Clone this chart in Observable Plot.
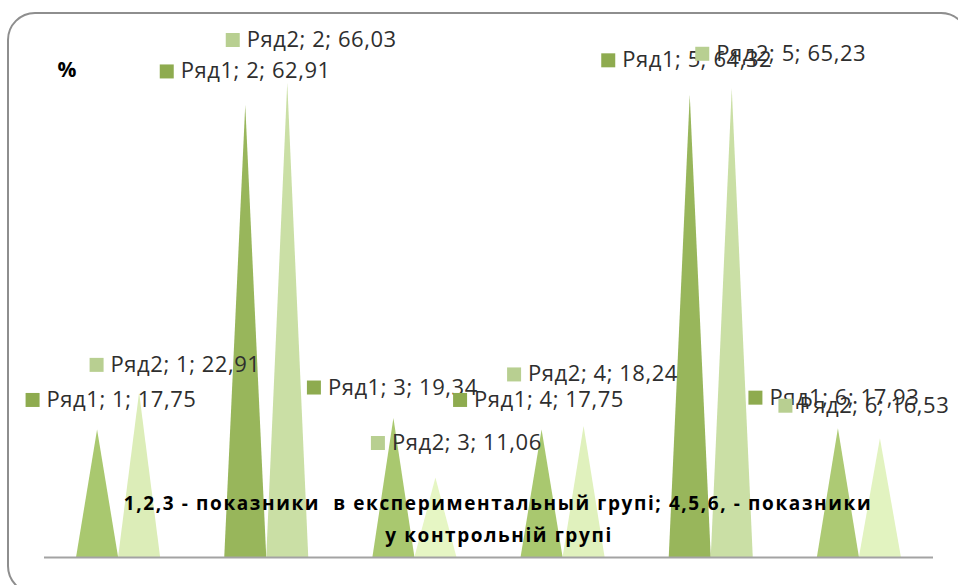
<!DOCTYPE html>
<html>
<head>
<meta charset="utf-8">
<script src="https://cdn.jsdelivr.net/npm/d3@7"></script>
<script src="https://cdn.jsdelivr.net/npm/@observablehq/plot@0.6"></script>
<style>
  html, body { margin: 0; padding: 0; background: #fff; }
  #wrap { position: relative; width: 958px; height: 585px; overflow: hidden; }
  #frame { position: absolute; left: 7px; top: 12px; width: 962px; height: 582px;
           border: 2.5px solid #8e8e8e; border-radius: 28px; box-sizing: border-box; }
  #chart { position: absolute; left: 0; top: 0; }
  #chart g[font-size="22"] { letter-spacing: 0.55px; }
  #chart g[font-size="19"] { letter-spacing: 1.6px; }
</style>
</head>
<body>
<div id="wrap"><div id="frame"></div><div id="chart"></div></div>
<script>
// ---- data ----
const categories = [1, 2, 3, 4, 5, 6];
const seriesNames = ["Ряд1", "Ряд2"];
const ryad1 = [17.75, 62.91, 19.34, 17.75, 64.32, 17.93];
const ryad2 = [22.91, 66.03, 11.06, 18.24, 65.23, 16.53];
const yMax = 70;
const percentLabel = "%";
const titleLines = [
  "1,2,3 - показники  в експериментальный групі; 4,5,6, - показники",
  "у контрольній групі"
];

// ---- styles / layout ----
const fill1 = ["#a9c86f", "#98b65b", "#a9c86f", "#a9c86f", "#98b65b", "#adca74"];
const fill2 = ["#dcedb8", "#cadfa5", "#e6f6c4", "#e0f1bd", "#cadfa5", "#e2f3c0"];
const markerColors = ["#8eab4f", "#b8cf91"];
// label offsets (px) of the marker's left edge / vertical centre from the pyramid apex
const labelDx1 = [-72, -86, -87, -89, -89, -90];
const labelDy1 = [-30, -34, -31, -30, -35, -31];
const labelDx2 = [-50, -62, -65, -77, -37, -102];
const labelDy2 = [-28, -43, -35, -52, -35, -33];

const halfW = 0.2835; // width of one pyramid in category units
const fmt = v => v.toFixed(2).replace(".", ",");

const triangles = [];
const apexes = [];
categories.forEach((c, i) => {
  [[ryad1[i], fill1[i], 0], [ryad2[i], fill2[i], 1]].forEach(([v, f, s]) => {
    const x0 = s === 0 ? c - halfW : c;
    const x1 = x0 + halfW;
    const key = `${s}-${c}`;
    triangles.push({key, x: x0, y: 0, fill: f});
    triangles.push({key, x: (x0 + x1) / 2, y: v, fill: f});
    triangles.push({key, x: x1, y: 0, fill: f});
    apexes.push({series: s, cat: c, i, x: (x0 + x1) / 2, y: v});
  });
});

const font = "'Open Sans', 'Noto Sans', sans-serif";
const labelMarks = [];
[0, 1].forEach(s => {
  apexes.filter(a => a.series === s).forEach(a => {
    const dx = s === 0 ? labelDx1[a.i] : labelDx2[a.i];
    const dy = s === 0 ? labelDy1[a.i] : labelDy2[a.i];
    const txt = `${seriesNames[s]}; ${a.cat}; ${fmt(a.y)}`;
    labelMarks.push(Plot.dot([a], {x: "x", y: "y", symbol: "square", r: 7.9,
      fill: markerColors[s], stroke: "none", dx: dx + 7, dy}));
    labelMarks.push(Plot.text([a], {x: "x", y: "y", text: () => txt, textAnchor: "start",
      dx: dx + 21, dy, fontSize: 22, fill: "#2e2e2e", fontFamily: font}));
  });
});

const chart = Plot.plot({
  width: 958,
  height: 585,
  marginLeft: 44,
  marginRight: 25,
  marginTop: 54,
  marginBottom: 28,
  x: {type: "linear", domain: [0.5, 6.5], axis: null},
  y: {domain: [0, yMax], axis: null},
  color: {type: "identity"},
  style: {background: "transparent", fontFamily: font, overflow: "visible"},
  marks: [
    Plot.areaY(triangles, {x: "x", y: "y", z: "key", fill: "fill", curve: "linear"}),
    Plot.ruleY([0], {stroke: "#a3a3a3", strokeWidth: 2}),
    Plot.text([titleLines[0]], {frameAnchor: "bottom", lineAnchor: "middle", text: d => d,
      dx: 9, dy: -54, fontSize: 19, fontWeight: "bold", fill: "#000", fontFamily: font}),
    Plot.text([titleLines[1]], {frameAnchor: "bottom", lineAnchor: "middle", text: d => d,
      dx: 10, dy: -22, fontSize: 19, fontWeight: "bold", fill: "#000", fontFamily: font}),
    ...labelMarks,
    Plot.text([percentLabel], {frameAnchor: "top-left", lineAnchor: "middle", text: d => d,
      dx: 13, dy: 16, fontSize: 21, fontWeight: "bold", fill: "#000", fontFamily: font})
  ]
});
document.getElementById("chart").appendChild(chart);
</script>
</body>
</html>
